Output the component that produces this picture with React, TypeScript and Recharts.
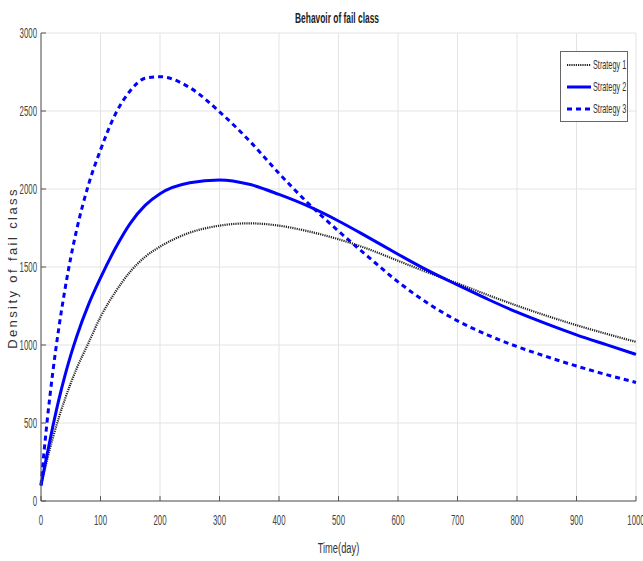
import { LineChart, Line, XAxis, YAxis, CartesianGrid } from 'recharts';

const days = [0, 5, 10, 20, 30, 40, 50, 60, 80, 100, 125, 150, 175, 200, 250, 300, 350, 400, 450, 500, 550, 600, 650, 700, 750, 800, 850, 900, 950, 1000];

const strategy1 = [100, 182, 260, 405, 535, 650, 755, 850, 1015, 1180, 1340, 1470, 1565, 1630, 1720, 1765, 1780, 1765, 1728, 1678, 1615, 1540, 1465, 1395, 1322, 1252, 1187, 1127, 1072, 1020];
const strategy2 = [100, 198, 295, 480, 650, 800, 935, 1055, 1260, 1430, 1620, 1780, 1895, 1970, 2040, 2058, 2030, 1965, 1888, 1795, 1690, 1582, 1478, 1385, 1295, 1210, 1135, 1065, 1002, 940];
const strategy3 = [100, 310, 500, 830, 1110, 1350, 1560, 1740, 2030, 2250, 2480, 2630, 2710, 2720, 2650, 2495, 2310, 2100, 1905, 1730, 1565, 1405, 1268, 1155, 1065, 990, 925, 865, 810, 760];

const xTicks = [0, 100, 200, 300, 400, 500, 600, 700, 800, 900, 1000];
const yTicks = [0, 500, 1000, 1500, 2000, 2500, 3000];

const seriesNames = ['Strategy 1', 'Strategy 2', 'Strategy 3'];

const data = days.map((d, i) => ({ day: d, s1: strategy1[i], s2: strategy2[i], s3: strategy3[i] }));

const FONT = "'Liberation Sans', Arial, sans-serif";
// the whole reference looks squeezed sideways, so the upright text is narrowed
const SQUEEZE = 0.56;

function BottomTick(props: any) {
  const { x, y, payload } = props;
  return (
    <text transform={`translate(${x},${y}) scale(${SQUEEZE},1)`} textAnchor="middle" dy="0.71em" fontSize={14} fill="#444" fontFamily={FONT}>
      {payload.value}
    </text>
  );
}

function LeftTick(props: any) {
  const { x, y, payload } = props;
  return (
    <text transform={`translate(${x},${y}) scale(${SQUEEZE},1)`} textAnchor="end" dy="0.355em" fontSize={14} fill="#444" fontFamily={FONT}>
      {payload.value}
    </text>
  );
}

const squeezed = { display: 'inline-block', transform: `scaleX(${SQUEEZE})` };

export default function App() {
  return (
    <div style={{ position: 'absolute', left: 0, top: 0, width: 643, height: 561, background: '#fff', overflow: 'hidden' }}>
      <LineChart width={643} height={561} data={data} margin={{ top: 33, right: 7, bottom: 20, left: 0 }}>
        <CartesianGrid stroke="#e3e3e3" strokeWidth={1} />
        <XAxis
          dataKey="day"
          type="number"
          domain={[0, 1000]}
          ticks={xTicks}
          height={40}
          tickSize={-5}
          tickMargin={19}
          stroke="#555"
          tick={<BottomTick />}
          interval={0}
        />
        <XAxis xAxisId="top" orientation="top" dataKey="day" type="number" domain={[0, 1000]} ticks={xTicks} height={0} tickSize={-5} tick={false} stroke="#555" />
        <YAxis
          type="number"
          domain={[0, 3000]}
          ticks={yTicks}
          width={41}
          tickSize={-5}
          tickMargin={9}
          stroke="#555"
          tick={<LeftTick />}
          interval={0}
        />
        <YAxis yAxisId="right" orientation="right" domain={[0, 3000]} ticks={yTicks} width={0} tickSize={-5} tick={false} stroke="#555" />
        <Line dataKey="s1" type="monotone" stroke="#222" strokeWidth={2.2} strokeDasharray="1.2 1" dot={false} isAnimationActive={false} />
        <Line dataKey="s2" type="monotone" stroke="#0000ff" strokeWidth={3} dot={false} isAnimationActive={false} />
        <Line dataKey="s3" type="monotone" stroke="#0000ff" strokeWidth={3} strokeDasharray="5 4" dot={false} isAnimationActive={false} />
      </LineChart>
      <div style={{ position: 'absolute', top: 9, left: 0, width: 643, textAlign: 'center', paddingLeft: 32, boxSizing: 'border-box', fontFamily: FONT, fontWeight: 'bold', fontSize: 15, lineHeight: '18px', color: '#222' }}>
        <span style={squeezed}>Behavoir of fail class</span>
      </div>
      <div style={{ position: 'absolute', top: 539, left: 0, width: 643, textAlign: 'center', paddingLeft: 34, boxSizing: 'border-box', fontFamily: FONT, fontSize: 15, lineHeight: '18px', color: '#333' }}>
        <span style={{ ...squeezed, transform: 'scaleX(0.62)' }}>Time(day)</span>
      </div>
      <div style={{ position: 'absolute', left: 12, top: 268, transform: 'translate(-50%, -50%) rotate(-90deg)', whiteSpace: 'nowrap', fontFamily: FONT, fontSize: 13, letterSpacing: 2.4, color: '#333' }}>
        Density of fail class
      </div>
      <div style={{ position: 'absolute', left: 560, top: 51, width: 66, height: 69, border: '1px solid #666', background: '#fff', fontFamily: FONT, fontSize: 13, color: '#333' }}>
        {seriesNames.map((name, i) => (
          <div key={name} style={{ position: 'absolute', left: 0, top: 4 + i * 22, height: 18, width: 66 }}>
            <svg width={28} height={18} style={{ position: 'absolute', left: 4, top: 0 }}>
              {i === 0 && <line x1={2} y1={9} x2={26} y2={9} stroke="#222" strokeWidth={2.2} strokeDasharray="1.2 1" />}
              {i === 1 && <line x1={2} y1={9} x2={26} y2={9} stroke="#0000ff" strokeWidth={3} />}
              {i === 2 && <line x1={2} y1={9} x2={28} y2={9} stroke="#0000ff" strokeWidth={3} strokeDasharray="5 4" />}
            </svg>
            <span style={{ position: 'absolute', left: 32, top: 0, lineHeight: '18px', whiteSpace: 'nowrap', transform: `scaleX(${SQUEEZE})`, transformOrigin: 'left center' }}>{name}</span>
          </div>
        ))}
      </div>
    </div>
  );
}
